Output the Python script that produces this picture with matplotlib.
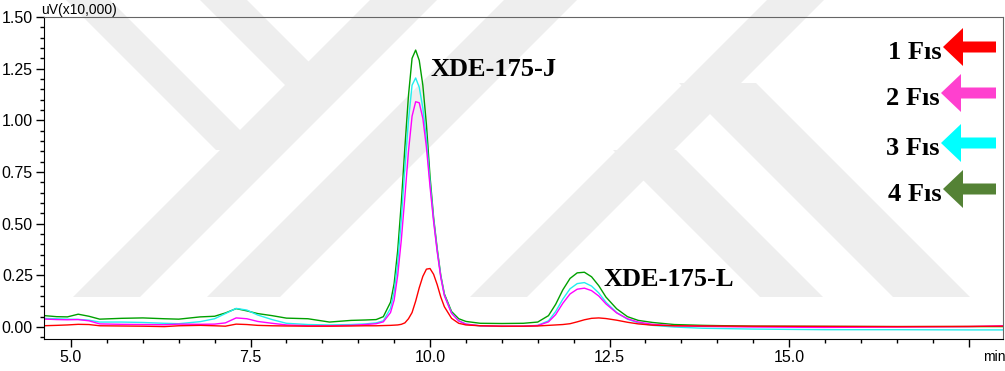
import matplotlib
matplotlib.use("Agg")
import matplotlib.pyplot as plt
from matplotlib.patches import Polygon
from matplotlib.ticker import MultipleLocator, FuncFormatter, FormatStrFormatter

# retention time (min)
time_min = [4.6, 4.8, 4.95, 5.1, 5.25, 5.4, 5.7, 6.0, 6.3, 6.5,
            6.8, 7.0, 7.15, 7.3, 7.45, 7.6, 7.8, 8.0, 8.3, 8.6,
            8.9, 9.1, 9.25, 9.35, 9.45, 9.5, 9.55, 9.6, 9.65, 9.7,
            9.75, 9.8, 9.85, 9.9, 9.95, 10.0, 10.05, 10.1, 10.15, 10.2,
            10.3, 10.4, 10.5, 10.7, 11.0, 11.3, 11.5, 11.65, 11.75, 11.85,
            11.95, 12.05, 12.15, 12.25, 12.35, 12.45, 12.6, 12.75, 12.9, 13.1,
            13.4, 13.8, 14.5, 15.5, 16.5, 17.5, 18.0]

# detector signal, uV (x10,000)
fis1 = [0.006, 0.008, 0.010, 0.013, 0.012, 0.006, 0.005, 0.004, 0.002, 0.006,
        0.008, 0.006, 0.004, 0.014, 0.012, 0.008, 0.006, 0.005, 0.004, 0.004,
        0.005, 0.006, 0.006, 0.007, 0.008, 0.009, 0.010, 0.013, 0.020, 0.040,
        0.070, 0.125, 0.190, 0.245, 0.280, 0.283, 0.255, 0.205, 0.145, 0.098,
        0.042, 0.018, 0.010, 0.006, 0.004, 0.004, 0.005, 0.008, 0.010, 0.012,
        0.016, 0.025, 0.035, 0.042, 0.044, 0.041, 0.033, 0.023, 0.015, 0.009,
        0.006, 0.005, 0.004, 0.003, 0.002, 0.003, 0.004]

fis2 = [0.039, 0.036, 0.035, 0.036, 0.030, 0.015, 0.013, 0.012, 0.011, 0.014,
        0.013, 0.014, 0.020, 0.044, 0.040, 0.027, 0.018, 0.010, 0.006, 0.006,
        0.008, 0.012, 0.016, 0.025, 0.070, 0.130, 0.250, 0.420, 0.630, 0.850,
        1.020, 1.090, 1.085, 1.010, 0.870, 0.680, 0.510, 0.365, 0.240, 0.152,
        0.066, 0.030, 0.014, 0.006, 0.004, 0.004, 0.007, 0.025, 0.060, 0.115,
        0.160, 0.183, 0.188, 0.176, 0.150, 0.112, 0.068, 0.040, 0.024, 0.013,
        0.006, 0.003, 0.000, -0.002, 0.000, 0.002, 0.006]

fis3 = [0.042, 0.040, 0.038, 0.037, 0.033, 0.024, 0.024, 0.022, 0.018, 0.016,
        0.026, 0.040, 0.065, 0.090, 0.082, 0.058, 0.036, 0.018, 0.012, 0.010,
        0.012, 0.015, 0.020, 0.030, 0.090, 0.170, 0.310, 0.520, 0.770, 1.000,
        1.170, 1.205, 1.160, 1.060, 0.910, 0.700, 0.520, 0.370, 0.245, 0.155,
        0.068, 0.030, 0.014, 0.005, 0.003, 0.004, 0.008, 0.030, 0.075, 0.135,
        0.185, 0.210, 0.215, 0.198, 0.165, 0.120, 0.070, 0.038, 0.020, 0.008,
        0.000, -0.006, -0.010, -0.013, -0.013, -0.014, -0.014]

fis4 = [0.056, 0.050, 0.049, 0.062, 0.052, 0.038, 0.042, 0.044, 0.040, 0.038,
        0.049, 0.052, 0.068, 0.089, 0.078, 0.065, 0.055, 0.043, 0.040, 0.024,
        0.032, 0.034, 0.036, 0.050, 0.120, 0.210, 0.370, 0.600, 0.870, 1.120,
        1.300, 1.340, 1.290, 1.170, 0.980, 0.730, 0.530, 0.380, 0.250, 0.160,
        0.075, 0.040, 0.027, 0.018, 0.017, 0.018, 0.024, 0.055, 0.110, 0.180,
        0.235, 0.262, 0.265, 0.243, 0.200, 0.145, 0.088, 0.050, 0.032, 0.022,
        0.012, 0.008, 0.004, 0.003, 0.002, 0.002, 0.002]

series = [fis4, fis3, fis2, fis1]
line_colors = ["#00a000", "#22eeee", "#ff00ff", "#ff0000"]

legend_labels = ["1 Fıs", "2 Fıs", "3 Fıs", "4 Fıs"]
arrow_colors = ["#ff0000", "#ff40cf", "#00ffff", "#548235"]

peak_labels = ["XDE-175-J", "XDE-175-L"]
peak_pos = [(10.0, 1.215), (12.41, 0.198)]

W, H = 1005, 371
fig = plt.figure(figsize=(W / 100, H / 100), dpi=100)

# light background logo stripes, in pixel space
bg = fig.add_axes([0, 0, 1, 1], zorder=0)
bg.set_xlim(0, W)
bg.set_ylim(H, 0)
bg.axis("off")
bands = [
    # (y_top, y_bot, xl_top, xr_top, xl_bot, xr_bot)
    (0, 150, 66, 110, 216, 260),
    (0, 297, 370, 437, 73, 140),
    (0, 90, 200, 247, 290, 337),
    (0, 297, 504, 577, 207, 280),
    (0, 297, 767, 824, 470, 527),
    (83, 297, 679, 756, 893, 970),
    (150, 297, 613, 676, 760, 823),
]
for yt, yb, xlt, xrt, xlb, xrb in bands:
    bg.add_patch(Polygon([(xlt, yt), (xrt, yt), (xrb, yb), (xlb, yb)],
                         closed=True, facecolor="#eeeeee", edgecolor="none"))

ax = fig.add_axes([44 / W, 32 / H, 959 / W, 322 / H], zorder=1)
ax.patch.set_alpha(0)

for ys, c in zip(series, line_colors):
    ax.plot(time_min, ys, color=c, lw=1.0)

ax.set_xlim(4.624, 17.98)
ax.set_ylim(-0.058, 1.5)
ax.xaxis.set_major_locator(MultipleLocator(2.5))
ax.xaxis.set_minor_locator(MultipleLocator(0.5))
ax.yaxis.set_major_locator(MultipleLocator(0.25))
ax.yaxis.set_minor_locator(MultipleLocator(0.05))
# the last major tick is left unlabelled, the axis unit sits there instead
ax.xaxis.set_major_formatter(FuncFormatter(lambda v, p: f"{v:.1f}" if v < 17 else ""))
ax.yaxis.set_major_formatter(FormatStrFormatter("%.2f"))
ax.tick_params(which="major", length=6, width=1, labelsize=11.5, pad=2,
               direction="out")
ax.tick_params(which="minor", length=3, width=1, direction="out")
for lab in ax.get_xticklabels() + ax.get_yticklabels():
    lab.set_fontfamily("Liberation Sans")
for side in ["top", "right"]:
    ax.spines[side].set_color("#666666")
for side in ["left", "bottom"]:
    ax.spines[side].set_color("black")

for txt, (px, py) in zip(peak_labels, peak_pos):
    ax.text(px, py, txt, fontsize=19, fontweight="bold",
            family="Liberation Serif", ha="left", va="baseline")

fig.text(41 / W, 1 - 14 / H, "uV(x10,000)", fontsize=10,
         family="Liberation Sans", ha="left", va="baseline")
fig.text(983 / W, 1 - 361 / H, "min", fontsize=10,
         family="Liberation Sans", ha="left", va="baseline")

# arrow legend on the right
ov = fig.add_axes([0, 0, 1, 1], zorder=2)
ov.set_xlim(0, W)
ov.set_ylim(H, 0)
ov.axis("off")
ov.patch.set_alpha(0)
row_y = [47, 93, 143, 189]
tip_x = [943, 941, 941, 943]
for lab, c, yc, xt in zip(legend_labels, arrow_colors, row_y, tip_x):
    head = 20
    hh, sh = 19, 5.5
    tail = 996
    pts = [(xt, yc), (xt + head, yc - hh), (xt + head, yc - sh),
           (tail, yc - sh), (tail, yc + sh), (xt + head, yc + sh),
           (xt + head, yc + hh)]
    ov.add_patch(Polygon(pts, closed=True, facecolor=c, edgecolor="none"))
    ov.text(xt - 1, yc + 12, lab, fontsize=19, fontweight="bold",
            family="Liberation Serif", ha="right", va="baseline")

fig.savefig("out.png", dpi=100)
